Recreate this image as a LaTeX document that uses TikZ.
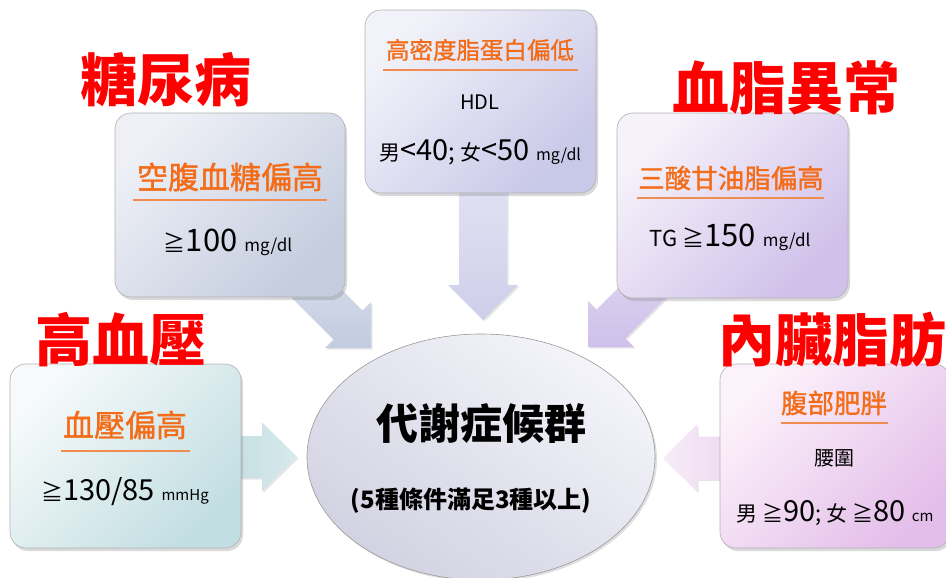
\documentclass[tikz,border=0pt]{standalone}
\usepackage{fontspec}
\setmainfont{Noto Sans CJK TC}
\newfontfamily\semib[FakeBold=1.2]{Noto Sans CJK TC}
\usetikzlibrary{calc,shadows,shapes.geometric}
\definecolor{orangeT}{RGB}{244,108,24}
\definecolor{orangeL}{RGB}{240,140,80}
\definecolor{redT}{RGB}{255,0,0}
\newcommand\fsz[1]{\fontsize{#1}{#1}\selectfont}
% #1 tail, #2 tip, #3 head length, #4 head half width, #5 shaft half width, #6 style, #7 name
\newcommand\blockarrow[7]{%
  \coordinate (#7h) at ($(#2)!#3!(#1)$);
  \path[#6] ($(#1)!#5!90:(#2)$) -- ($(#7h)!#5!90:(#2)$) -- ($(#7h)!#4!90:(#2)$) -- (#2)
     -- ($(#7h)!#4!-90:(#2)$) -- ($(#7h)!#5!-90:(#2)$) -- ($(#1)!#5!-90:(#2)$) -- cycle;
}
\begin{document}
\begin{tikzpicture}[x=1pt,y=-1pt,
  box/.style={draw=black!30, line width=0.6pt, rounded corners=16pt, inner sep=0pt, outer sep=0pt,
    drop shadow={opacity=0.3, shadow xshift=2pt, shadow yshift=-3pt}},
  arr/.style={drop shadow={opacity=0.2, shadow xshift=1.5pt, shadow yshift=-1.5pt}},
  redt/.style={font=\fsz{57}\bfseries, text=redT, inner sep=0pt},
  ttl/.style={font=\semib\fsz{#1}, text=orangeT, inner sep=0pt},
  uline/.style={draw=orangeL, line width=2.2pt},
  txt/.style={inner sep=0pt, text=black}]
\useasboundingbox (0,0) rectangle (946,578);

% arrows
\coordinate (a1t) at (483,180); \coordinate (a1p) at (483,320);
\coordinate (a2t) at (305,282); \coordinate (a2p) at (371,348);
\coordinate (a3t) at (654,281); \coordinate (a3p) at (588,347);
\coordinate (a4t) at (230,457); \coordinate (a4p) at (297,457);
\coordinate (a5t) at (730,458); \coordinate (a5p) at (663,458);
\blockarrow{a1t}{a1p}{35pt}{35pt}{24pt}{arr,top color={rgb,255:red,226;green,226;blue,244},bottom color={rgb,255:red,206;green,206;blue,234}}{A}
\blockarrow{a2t}{a2p}{32.5pt}{32.5pt}{20.5pt}{arr,top color={rgb,255:red,214;green,220;blue,234},bottom color={rgb,255:red,194;green,204;blue,224}}{B}
\blockarrow{a3t}{a3p}{32.5pt}{32.5pt}{20.5pt}{arr,top color={rgb,255:red,222;green,212;blue,240},bottom color={rgb,255:red,206;green,192;blue,234}}{C}
\blockarrow{a4t}{a4p}{35pt}{34.5pt}{21pt}{arr,left color={rgb,255:red,196;green,222;blue,226},right color={rgb,255:red,216;green,234;blue,236}}{D}
\blockarrow{a5t}{a5p}{34pt}{33.5pt}{21.5pt}{arr,right color={rgb,255:red,236;green,218;blue,240},left color={rgb,255:red,248;green,236;blue,248}}{E}

% boxes
\node[box, minimum width=231pt, minimum height=183pt,
  top color={rgb,255:red,242;green,242;blue,250}, bottom color={rgb,255:red,200;green,200;blue,232}, shading angle=45]
  (hdlbox) at (480.5,101.5) {};
\node[box, minimum width=230pt, minimum height=184pt,
  top color={rgb,255:red,238;green,240;blue,246}, bottom color={rgb,255:red,196;green,204;blue,222}, shading angle=45]
  (fastbox) at (230,205) {};
\node[box, minimum width=231pt, minimum height=185pt,
  top color={rgb,255:red,246;green,242;blue,250}, bottom color={rgb,255:red,208;green,192;blue,234}, shading angle=45]
  (tgbox) at (732.5,205.5) {};
\node[box, minimum width=231pt, minimum height=184pt,
  top color={rgb,255:red,246;green,250;blue,250}, bottom color={rgb,255:red,194;green,222;blue,226}, shading angle=45]
  (bpbox) at (125.5,456) {};
\node[box, minimum width=230pt, minimum height=184pt,
  top color={rgb,255:red,252;green,242;blue,250}, bottom color={rgb,255:red,228;green,190;blue,234}, shading angle=45]
  (waistbox) at (835,456) {};

% ellipse
\node[ellipse, draw=black!40, line width=0.6pt, minimum width=348pt, minimum height=246pt, inner sep=0pt,
  top color={rgb,255:red,244;green,244;blue,250}, bottom color={rgb,255:red,210;green,210;blue,226}, shading angle=-35,
  drop shadow={opacity=0.25, shadow xshift=2pt, shadow yshift=-2pt}]
  (core) at (481,457) {};
\node[txt, font=\fsz{42}\bfseries] (coret) at (481,424) {代謝症候群};
\node[txt, font=\fsz{24}\bfseries] (cores) at (471,501) {(5種條件滿足3種以上)};

% red titles
\node[redt] (r1) at (166,80) {糖尿病};
\node[redt] (r2) at (786,88) {血脂異常};
\node[redt] (r3) at (121,340) {高血壓};
\node[redt] (r4) at (832,340) {內臟脂肪};

% HDL box
\node[ttl=23.5] (hdlt) at (480,50) {高密度脂蛋白偏低};
\draw[uline] (383,70) -- (578,70);
\node[txt, font=\fsz{20}] (hdl1) at (480,102) {HDL};
\node[txt] (hdl2) at (480,152) {\fsz{21}男\fsz{29}<40\fsz{24}; \fsz{21}女\fsz{29}<50 \fsz{16}mg/dl};

% fasting box
\node[ttl=31] (fastt) at (230,177) {空腹血糖偏高};
\draw[uline] (133,200) -- (327,200);
\node[txt] (fast1) at (228,242) {\fsz{22}≧\fsz{31}100 \fsz{17}mg/dl};

% TG box
\node[ttl=26.5] (tgt) at (731,178) {三酸甘油脂偏高};
\draw[uline] (637,198) -- (824,198);
\node[txt] (tg1) at (730,237) {\fsz{22}TG ≧\fsz{31}150 \fsz{17}mg/dl};

% BP box
\node[ttl=31] (bpt) at (125,425) {血壓偏高};
\draw[uline] (61,451) -- (190,451);
\node[txt] (bp1) at (125,492) {\fsz{22}≧\fsz{29}130/85 \fsz{15}mmHg};

% waist box
\node[ttl=26.5] (wt) at (834,403) {腹部肥胖};
\draw[uline] (781,423) -- (888,423);
\node[txt, font=\fsz{20}] (w1) at (834,458) {腰圍};
\node[txt] (w2) at (835,513) {\fsz{21}男 ≧\fsz{29}90\fsz{22}; \fsz{21}女 ≧\fsz{29}80 \fsz{15}cm};
\end{tikzpicture}
\end{document}
